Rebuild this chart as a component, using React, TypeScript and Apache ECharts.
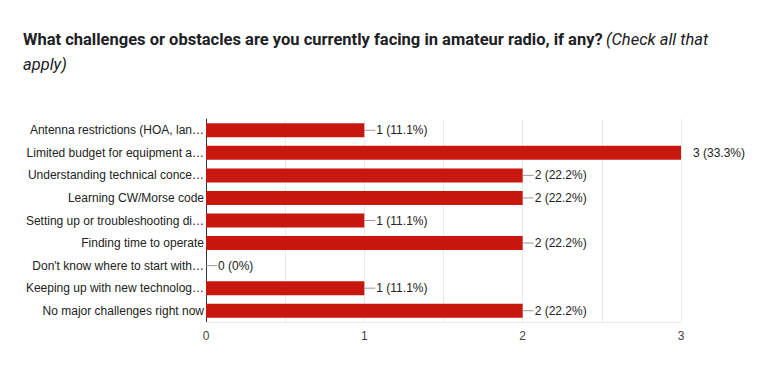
import React, { useEffect, useRef } from "react";
import * as echarts from "echarts";

const categories = [
  "Antenna restrictions (HOA, lan…",
  "Limited budget for equipment a…",
  "Understanding technical conce…",
  "Learning CW/Morse code",
  "Setting up or troubleshooting di…",
  "Finding time to operate",
  "Don't know where to start with…",
  "Keeping up with new technolog…",
  "No major challenges right now",
];
const counts = [1, 3, 2, 2, 1, 2, 0, 1, 2];
const percents = ["11.1%", "33.3%", "22.2%", "22.2%", "11.1%", "22.2%", "0%", "11.1%", "22.2%"];
const xTicks = [0, 1, 2, 3];

export default function App() {
  const ref = useRef<HTMLDivElement>(null);
  useEffect(() => {
    const chart = echarts.init(ref.current!, null, { renderer: "svg" });
    const maxV = xTicks[xTicks.length - 1];
    chart.setOption({
      animation: false,
      graphic: [
        {
          type: "text",
          left: 23,
          top: 31,
          style: {
            text: "{b|What challenges or obstacles are you currently facing in amateur radio, if any?} {i|(Check all that}\n{i|apply)}",
            rich: {
              b: { fontFamily: "Roboto", fontWeight: "bold", fontSize: 16.5, fill: "#202124", lineHeight: 24.5 },
              i: { fontFamily: "Roboto", fontStyle: "italic", fontSize: 16.5, fill: "#202124", lineHeight: 24.5 },
            },
          },
        },
      ],
      grid: { left: 206, right: 82, top: 119, bottom: 55 },
      xAxis: {
        type: "value",
        min: 0,
        max: maxV,
        interval: 0.5,
        axisLine: { show: true, lineStyle: { color: "#ebebeb" } },
        axisTick: { show: false },
        splitLine: { lineStyle: { color: "#ebebeb" } },
        axisLabel: {
          color: "#444",
          fontFamily: "Liberation Sans, Arial",
          fontSize: 12,
          margin: 8,
          formatter: (v: number) => (Number.isInteger(v) ? String(v) : ""),
        },
      },
      yAxis: {
        type: "category",
        data: categories,
        inverse: true,
        axisLine: { show: true, lineStyle: { color: "#333" } },
        axisTick: { show: false },
        axisLabel: {
          color: "#222",
          fontFamily: "Liberation Sans, Arial",
          fontSize: 12,
          margin: 2,
        },
      },
      series: [
        {
          type: "bar",
          data: counts,
          barWidth: 14,
          itemStyle: { color: "#c8170f" },
          z: 2,
        },
        {
          type: "custom",
          data: counts.map((c, i) => [c, i]),
          encode: { x: 0, y: 1 },
          z: 3,
          renderItem: (params: any, api: any) => {
            const v = api.value(0);
            const i = api.value(1);
            const p = api.coord([v, i]);
            const children: any[] = [];
            if (v < maxV) {
              children.push({
                type: "line",
                shape: { x1: p[0], y1: p[1], x2: p[0] + 11, y2: p[1] },
                style: { stroke: "#999", lineWidth: 1 },
              });
            }
            children.push({
              type: "text",
              x: p[0] + 12,
              y: p[1],
              style: {
                text: `${counts[i]} (${percents[i]})`,
                fill: "#222",
                fontFamily: "Liberation Sans, Arial",
                fontSize: 12,
                verticalAlign: "middle",
                align: "left",
              },
            });
            return { type: "group", children };
          },
        },
      ],
    });
    return () => chart.dispose();
  }, []);
  return <div ref={ref} style={{ width: 763, height: 377, position: "absolute", left: 0, top: 0 }} />;
}
